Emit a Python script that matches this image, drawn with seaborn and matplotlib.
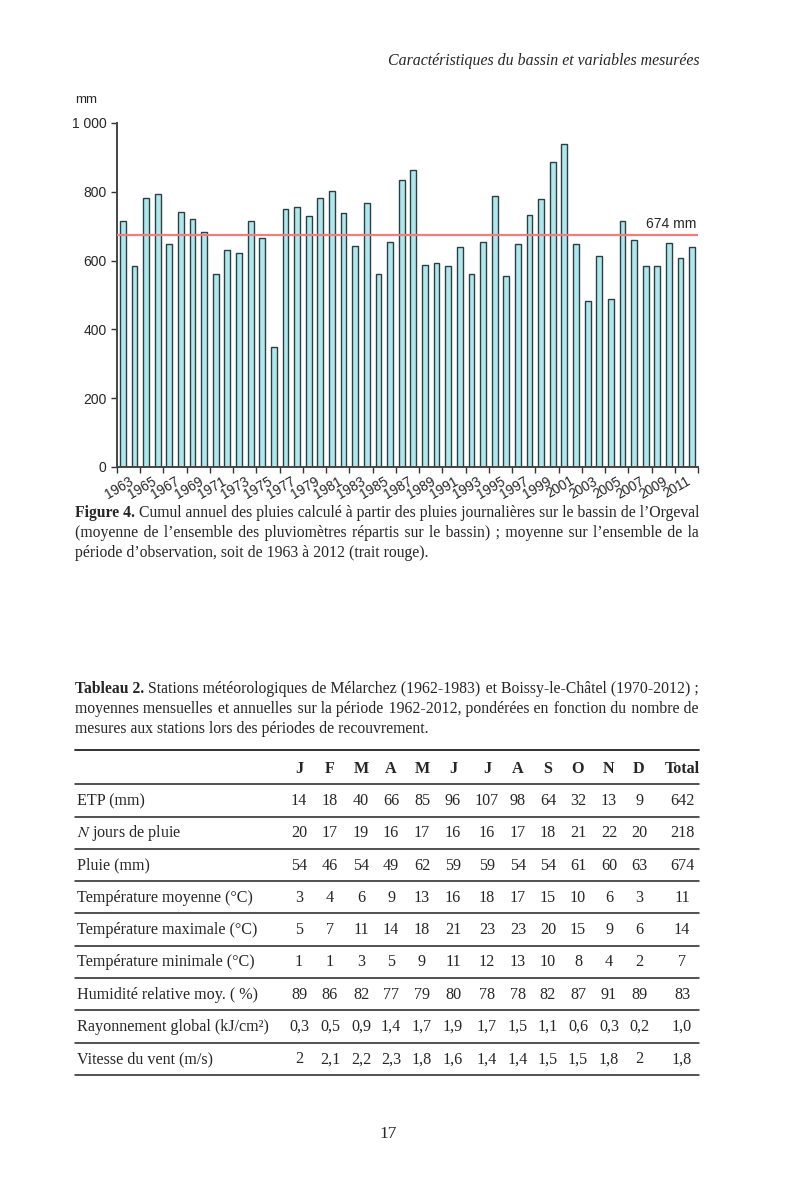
import numpy as np
import pandas as pd
import matplotlib
matplotlib.use("Agg")
import matplotlib.pyplot as plt
from matplotlib.ticker import FuncFormatter
import seaborn as sns

# annual rainfall, Orgeval basin (mm)
years = list(range(1963, 2013))
rain = [714, 583, 782, 793, 648, 742, 722, 683, 562, 632,
        623, 714, 665, 350, 749, 757, 731, 782, 802, 737,
        642, 767, 562, 653, 833, 862, 588, 594, 583, 639,
        562, 653, 787, 556, 649, 734, 780, 886, 939, 649,
        482, 613, 487, 714, 659, 585, 585, 650, 609, 639]
mean_rain = 674

# table 2
months = ["J", "F", "M", "A", "M", "J", "J", "A", "S", "O", "N", "D", "Total"]
row_labels = ["ETP (mm)", "$N$ jours de pluie", "Pluie (mm)",
              "Température moyenne (°C)", "Température maximale (°C)",
              "Température minimale (°C)", "Humidité relative moy. ( %)",
              "Rayonnement global (kJ/cm²)", "Vitesse du vent (m/s)"]
etp = [14, 18, 40, 66, 85, 96, 107, 98, 64, 32, 13, 9, 642]
n_rain_days = [20, 17, 19, 16, 17, 16, 16, 17, 18, 21, 22, 20, 218]
pluie = [54, 46, 54, 49, 62, 59, 59, 54, 54, 61, 60, 63, 674]
t_mean = [3, 4, 6, 9, 13, 16, 18, 17, 15, 10, 6, 3, 11]
t_max = [5, 7, 11, 14, 18, 21, 23, 23, 20, 15, 9, 6, 14]
t_min = [1, 1, 3, 5, 9, 11, 12, 13, 10, 8, 4, 2, 7]
humidity = [89, 86, 82, 77, 79, 80, 78, 78, 82, 87, 91, 89, 83]
radiation = [0.3, 0.5, 0.9, 1.4, 1.7, 1.9, 1.7, 1.5, 1.1, 0.6, 0.3, 0.2, 1.0]
wind = [2, 2.1, 2.2, 2.3, 1.8, 1.6, 1.4, 1.4, 1.5, 1.5, 1.8, 2, 1.8]

sns.set_style("white")
plt.rcParams["font.family"] = ["Liberation Sans", "DejaVu Sans"]
plt.rcParams["mathtext.fontset"] = "stix"
SERIF = ["Liberation Serif", "DejaVu Serif"]
FS = 11.6  # table text size
CAP = 11.3  # caption text size

fig = plt.figure(figsize=(8, 12), dpi=100)

# page layer in pixel coordinates
page = fig.add_axes([0, 0, 1, 1], zorder=-1)
page.set_xlim(0, 800)
page.set_ylim(1200, 0)
page.axis("off")

# ---- bar chart ----
ax = fig.add_axes([117 / 800, 1 - 467 / 1200, (698 - 117) / 800, (467 - 123) / 1200])
df = pd.DataFrame({"year": years, "rain": rain})
sns.barplot(data=df, x="year", y="rain", ax=ax, color="#ade8ef", saturation=1,
            edgecolor="#2e3d3f", linewidth=1.0, width=0.5)
ax.axhline(mean_rain, color="#f27d7d", lw=1.6, zorder=3)
ax.text(len(years) - 0.6, mean_rain + 12, f"{mean_rain} mm", ha="right", va="bottom", fontsize=10)

ax.set_xlim(-0.5, len(years) - 0.5)
ax.set_ylim(0, 1000)
ax.set_yticks(range(0, 1001, 200))
ax.yaxis.set_major_formatter(FuncFormatter(lambda v, p: f"{int(v):,}".replace(",", " ")))
ax.set_xticks(np.arange(0, len(years), 2) + 0.5)
ax.set_xticklabels([str(y) for y in years[::2]], rotation=30, ha="right",
                   rotation_mode="anchor", fontsize=9.8)
ax.set_xticks(np.arange(-0.5, len(years), 1), minor=True)
ax.tick_params(axis="x", which="major", length=0, pad=5)
ax.tick_params(axis="x", which="minor", length=4, width=1, color="#333333", direction="out", bottom=True)
ax.tick_params(axis="y", length=4, width=1, color="#333333", labelsize=10, left=True, direction="out")
ax.set_xlabel("")
ax.set_ylabel("")
sns.despine(ax=ax)
for s in ["left", "bottom"]:
    ax.spines[s].set_color("#444444")
    ax.spines[s].set_linewidth(1.4)
page.text(75, 100, "mm", fontsize=9.5, va="center", ha="left")

# ---- page text ----
page.text(699, 65, "Caractéristiques du bassin et variables mesurées", family=SERIF,
          style="italic", fontsize=11.4, ha="right", va="baseline")
page.text(388, 1138, "17", family=SERIF, fontsize=12.5, ha="center", va="baseline")

renderer = fig.canvas.get_renderer()
HAIR = "\u200a"


def text_width(s, size, weight="normal"):
    t = page.text(0, 0, s, family=SERIF, fontsize=size, fontweight=weight)
    w = t.get_window_extent(renderer).width
    t.remove()
    return w


def spread(words, k):
    # distribute k hair spaces over the gaps between words
    gaps = len(words) - 1
    out, done = words[0], 0
    for i, w in enumerate(words[1:], start=1):
        n = int(round(k * i / gaps)) - done
        done += n
        out += " " + HAIR * n + w
    return out


def para_line(y, body, bold=None, x0=75, x1=699, full=True, size=CAP):
    # one justified line; y is the baseline
    if full:
        lead = (bold + " ") if bold else ""
        natural = text_width(lead + body, size)
        if natural > x1 - x0:
            size *= (x1 - x0) / natural * 0.995
    x = x0
    if bold:
        t = page.text(x, y, bold, family=SERIF, fontsize=size, fontweight="bold", va="baseline")
        x += t.get_window_extent(renderer).width + text_width("a a", size) - text_width("aa", size)
    if full:
        words = body.split(" ")
        lo, hi = 0, 600
        while lo < hi:
            mid = (lo + hi + 1) // 2
            if text_width(spread(words, mid), size) <= x1 - x:
                lo = mid
            else:
                hi = mid - 1
        body = spread(words, lo)
    page.text(x, y, body, family=SERIF, fontsize=size, va="baseline")


para_line(517, "Cumul annuel des pluies calculé à partir des pluies journalières sur le bassin de l’Orgeval", bold="Figure 4.")
para_line(537, "(moyenne de l’ensemble des pluviomètres répartis sur le bassin) ; moyenne sur l’ensemble de la")
para_line(557, "période d’observation, soit de 1963 à 2012 (trait rouge).", full=False)

para_line(693, "Stations météorologiques de Mélarchez (1962-1983) et Boissy-le-Châtel (1970-2012) ;", bold="Tableau 2.")
para_line(713, "moyennes mensuelles et annuelles sur la période 1962-2012, pondérées en fonction du nombre de")
para_line(733, "mesures aux stations lors des périodes de recouvrement.", full=False)

# ---- table ----
col_x = [299, 330, 361, 391, 422, 453, 487, 518, 548, 578, 609, 639, 682]
rows = [
    [str(v) for v in etp],
    [str(v) for v in n_rain_days],
    [str(v) for v in pluie],
    [str(v) for v in t_mean],
    [str(v) for v in t_max],
    [str(v) for v in t_min],
    [str(v) for v in humidity],
    [f"{v:.1f}".replace(".", ",") for v in radiation],
    [f"{v:g}".replace(".", ",") for v in wind],
]

page.plot([75, 699], [750, 750], color="#222222", lw=1.3)
page.plot([75, 699], [784, 784], color="#222222", lw=1.1)
for x, m in zip(col_x, months):
    page.text(x, 773, m, family=SERIF, fontsize=FS, fontweight="bold", ha="center", va="baseline")

row_h = 32.3
for i, (lab, vals) in enumerate(zip(row_labels, rows)):
    y = 800 + i * row_h
    page.text(77, y + 5, lab, family=SERIF, fontsize=FS, ha="left", va="baseline")
    for x, v in zip(col_x, vals):
        page.text(x, y + 5, v, family=SERIF, fontsize=FS, ha="center", va="baseline")
    page.plot([75, 699], [y + 16.5, y + 16.5], color="#222222", lw=1.1)

fig.savefig("out.png", dpi=100)
